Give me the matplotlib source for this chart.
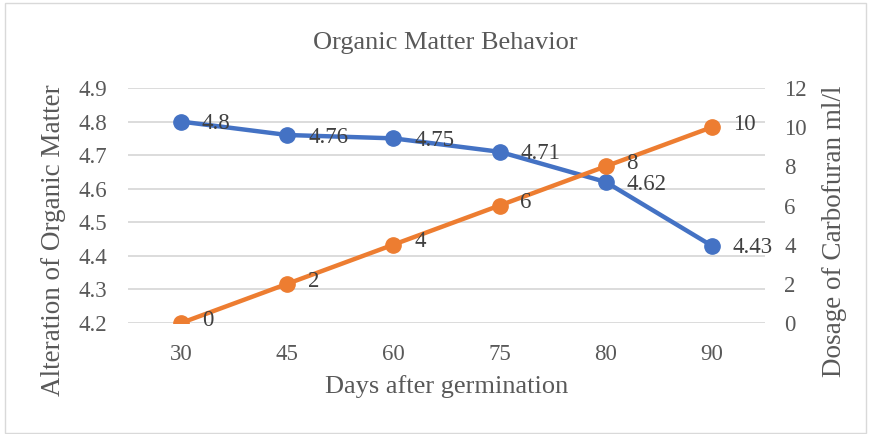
import matplotlib
matplotlib.use('Agg')
import matplotlib.pyplot as plt
from matplotlib.patches import Rectangle

# Data
days = ['30', '45', '60', '75', '80', '90']
organic_matter = [4.8, 4.76, 4.75, 4.71, 4.62, 4.43]
carbofuran_dose = [0, 2, 4, 6, 8, 10]
left_ticks = [4.2, 4.3, 4.4, 4.5, 4.6, 4.7, 4.8, 4.9]
right_ticks = [0, 2, 4, 6, 8, 10, 12]

BLUE = '#4472C4'
ORANGE = '#ED7D31'
GRID = '#D9D9D9'
TXT = '#595959'
LBL = '#404040'

plt.rcParams['font.family'] = ['Liberation Serif', 'DejaVu Serif']

fig = plt.figure(figsize=(8.72, 4.34), dpi=100)
fig.patches.append(Rectangle((5 / 872, 1 - 433 / 434), 861 / 872, 430 / 434,
                             transform=fig.transFigure, fill=False,
                             edgecolor='#D9D9D9', linewidth=1))

ax = fig.add_axes([128 / 872, 1 - 323 / 434, 637 / 872, 235 / 434])
ax2 = ax.twinx()

x = list(range(len(days)))

ax.plot(x, organic_matter, color=BLUE, linewidth=3.2, marker='o', markersize=11,
        solid_capstyle='round', zorder=3)
ax2.plot(x, carbofuran_dose, color=ORANGE, linewidth=3.2, marker='o', markersize=11,
         solid_capstyle='round', zorder=3)

for xi, v in zip(x, organic_matter):
    ax.annotate(f'{v:g}', (xi, v), xytext=(15, -1.5), textcoords='offset points',
                ha='left', va='center', fontsize=16.5, color=LBL, zorder=5)
for xi, v in zip(x, carbofuran_dose):
    ax2.annotate(f'{v:g}', (xi, v), xytext=(15, 2), textcoords='offset points',
                 ha='left', va='center', fontsize=16.5, color=LBL, zorder=5)

ax.set_xlim(-0.5, len(days) - 0.5)
ax.set_ylim(4.2, 4.9)
ax.set_yticks(left_ticks)
ax.set_yticklabels([f'{t:.1f}' for t in left_ticks])
ax2.set_ylim(0, 12)
ax2.set_yticks(right_ticks)
ax.set_xticks(x)
ax.set_xticklabels(days)

for t in left_ticks:
    ax.axhline(t, color=GRID, linewidth=1.3, zorder=0)

for a in (ax, ax2):
    for s in a.spines.values():
        s.set_visible(False)
    a.tick_params(length=0, labelsize=16.5, colors=TXT)
ax.tick_params(axis='y', pad=15)
ax.tick_params(axis='x', pad=15)
ax2.tick_params(axis='y', pad=14)

ax.set_xlabel('Days after germination', fontsize=19, color=TXT, labelpad=7)

# axis titles sit a little below the plot centre, as in the reference
fig.text(54 / 872, 1 - 240 / 434, 'Alteration of Organic Matter', rotation=90,
         ha='center', va='center', fontsize=19.5, color=TXT)
fig.text(834 / 872, 1 - 231 / 434, 'Dosage of Carbofuran ml/l', rotation=90,
         ha='center', va='center', fontsize=19.5, color=TXT)

fig.text(445 / 872, 1 - 43 / 434, 'Organic Matter Behavior', ha='center', va='center',
         fontsize=19, color=TXT)

fig.savefig('out.png', dpi=100)
